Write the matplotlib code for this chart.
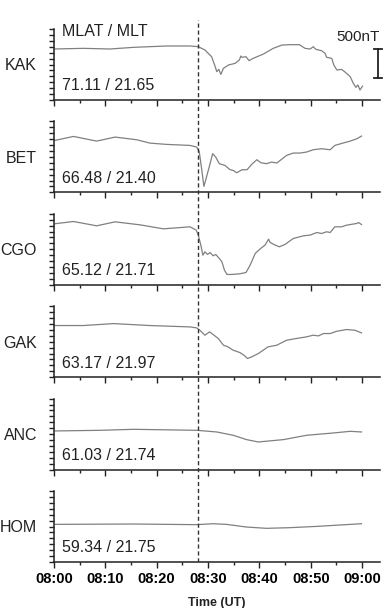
import matplotlib
matplotlib.use("Agg")
from matplotlib import pyplot as plt
from matplotlib.ticker import MultipleLocator

plt.rcParams["font.family"] = ["Liberation Sans", "DejaVu Sans"]

# minutes after 08:00 UT / relative field (nT)
STATIONS = ["KAK", "BET", "CGO", "GAK", "ANC", "HOM"]
COORDS = ["71.11 / 21.65", "66.48 / 21.40", "65.12 / 21.71",
          "63.17 / 21.97", "61.03 / 21.74", "59.34 / 21.75"]

kak_t = [0, 5.7, 10.9, 15.5, 22.0, 26.5, 28.1, 29.4, 30.7, 31.4, 31.7, 32.1, 32.5,
         33.0, 34.0, 35.3, 36.1, 36.4, 36.6, 37.4, 38.0, 38.8, 40.8, 42.7, 44.4,
         46.0, 47.8, 48.9, 49.9, 50.5, 51.0, 52.1, 52.8, 53.1, 54.1, 54.5, 55.1,
         56.0, 56.6, 57.7, 58.3, 58.8, 59.2, 59.6, 60.1]
kak_b = [862, 873, 862, 890, 913, 913, 901, 845, 732, 563, 479, 518, 434,
         535, 592, 620, 676, 744, 721, 732, 665, 704, 777, 873, 929,
         935, 935, 873, 862, 901, 856, 834, 789, 721, 704, 592, 507,
         518, 479, 394, 282, 214, 254, 169, 236]

bet_t = [0.2, 3.8, 8.3, 11.9, 16.1, 18.7, 22.0, 26.5, 27.8, 28.3, 28.8, 29.2, 29.7,
         30.4, 30.9, 31.5, 32.2, 33.3, 34.3, 34.9, 35.6, 36.6, 37.6, 38.5, 39.5,
         40.3, 41.4, 42.4, 43.4, 45.3, 46.6, 47.9, 49.2, 50.5, 52.1, 53.8, 54.7,
         56.3, 57.7, 59.0, 59.9]
bet_b = [879, 946, 867, 935, 890, 833, 811, 794, 766, 682, 372, 101, 259,
         485, 654, 597, 485, 456, 383, 372, 332, 383, 383, 473, 552,
         501, 485, 513, 496, 625, 665, 665, 682, 721, 738, 721, 794,
         834, 867, 907, 952]

cgo_t = [0, 3.8, 8.3, 11.9, 16.8, 21.3, 26.5, 27.7, 28.1, 28.6, 29.0, 29.4, 29.9,
         30.4, 31.0, 31.5, 32.2, 32.7, 33.2, 33.7, 34.6, 36.2, 37.4, 38.2, 39.2,
         40.1, 41.1, 41.8, 42.1, 43.1, 43.9, 45.0, 46.6, 48.6, 49.9, 51.2, 52.1,
         53.1, 53.8, 54.7, 56.0, 57.0, 59.0, 59.3, 59.9]
cgo_b = [1030, 1070, 997, 1064, 1013, 946, 980, 924, 840, 671, 501, 558, 513,
         546, 490, 513, 445, 389, 248, 175, 175, 186, 208, 332, 530,
         603, 671, 772, 715, 671, 642, 682, 783, 828, 840, 884, 867,
         896, 884, 980, 980, 1008, 1037, 1053, 1019]

gak_t = [0, 5.7, 11.6, 18.7, 26.5, 27.8, 28.4, 29.4, 30.3, 31.0, 32.0, 33.0, 33.9,
         34.9, 36.2, 37.0, 37.7, 38.5, 39.8, 41.7, 43.4, 45.3, 47.2, 49.2, 50.5,
         51.5, 52.5, 53.8, 55.1, 57.0, 58.6, 59.9]
gak_b = [873, 873, 906, 873, 850, 833, 794, 710, 766, 721, 654, 541, 513,
         456, 417, 372, 316, 343, 400, 513, 541, 625, 654, 682, 710,
         698, 738, 738, 777, 806, 794, 749]

anc_t = [0, 9.0, 15.5, 27.8, 31.7, 34.9, 37.5, 39.8, 44.7, 49.2, 54.4, 57.7, 59.9]
anc_b = [653, 664, 681, 664, 636, 580, 507, 467, 507, 580, 619, 647, 636]

hom_t = [0, 15.5, 27.8, 31.0, 33.6, 37.5, 41.4, 45.9, 51.2, 59.9]
hom_b = [636, 642, 631, 647, 636, 591, 569, 580, 602, 647]

SERIES = [(kak_t, kak_b), (bet_t, bet_b), (cgo_t, cgo_b),
          (gak_t, gak_b), (anc_t, anc_b), (hom_t, hom_b)]

ONSET = 28.0
XTICK_LABELS = ["08:00", "08:10", "08:20", "08:30", "08:40", "08:50", "09:00"]

W, H = 385, 608
fig = plt.figure(figsize=(W / 100, H / 100), dpi=100)

left = 54 / W
width = 326 / W
XMAX = 63.5
YMAX = 1200

axes = []
for i, (name, crd, (t, b)) in enumerate(zip(STATIONS, COORDS, SERIES)):
    bottom_px = 100 + 92.4 * i
    ax = fig.add_axes([left, 1 - bottom_px / H, width, 71 / H])
    ax.plot(t, b, color=(0.5, 0.5, 0.5), lw=0.9)
    ax.set_xlim(0, XMAX)
    ax.set_ylim(0, YMAX)
    for s in ("top", "right"):
        ax.spines[s].set_visible(False)
    for s in ("left", "bottom"):
        ax.spines[s].set_linewidth(1.1)
        ax.spines[s].set_color("#222222")
    ax.set_xticks([0, 10, 20, 30, 40, 50, 60])
    ax.xaxis.set_minor_locator(MultipleLocator(5))
    ax.yaxis.set_major_locator(MultipleLocator(100))
    ax.tick_params(axis="x", which="major", length=4.5, width=1.0, color="#222222")
    ax.tick_params(axis="x", which="minor", length=2.5, width=1.0, color="#222222")
    ax.tick_params(axis="y", which="major", length=3.5, width=1.0, color="#222222")
    ax.set_yticklabels([])
    if i < len(STATIONS) - 1:
        ax.set_xticklabels([])
    else:
        ax.set_xticklabels(XTICK_LABELS, fontsize=10.5, fontweight="bold")
        ax.tick_params(axis="x", pad=3)
    ax.text(-0.052, 0.48, name, transform=ax.transAxes, ha="right", va="center",
            fontsize=11.5, color="#222222")
    ax.text(0.025, 0.2, crd, transform=ax.transAxes, ha="left", va="center",
            fontsize=11.5, color="#222222")
    axes.append(ax)

# header and scale bar in the top panel
top = axes[0]
top.text(0.025, 0.96, "MLAT / MLT", transform=top.transAxes, ha="left", va="center",
         fontsize=11.5, color="#222222")
top.text(1.0, 1065, "500nT", transform=top.get_yaxis_transform(), ha="right",
         va="center", fontsize=11, color="#222222")
bar_x, bar_y0, bar_y1 = 63.1, 370, 870
top.plot([bar_x, bar_x], [bar_y0, bar_y1], color="#222222", lw=1.3, clip_on=False)
top.plot([bar_x - 0.7, bar_x + 0.7], [bar_y0, bar_y0], color="#222222", lw=1.3, clip_on=False)
top.plot([bar_x - 0.7, bar_x + 0.7], [bar_y1, bar_y1], color="#222222", lw=1.3, clip_on=False)

# onset line through all panels
ov = fig.add_axes([left, 1 - 562 / H, width, (562 - 20) / H])
ov.set_xlim(0, XMAX)
ov.set_ylim(0, 1)
ov.axis("off")
ov.axvline(ONSET, color="#333333", lw=1.0, linestyle=(0, (3, 2)))

fig.text(217 / W, 1 - 603 / H, "Time (UT)", ha="center", va="center",
         fontsize=9, fontweight="bold", color="#222222")

fig.savefig("out.png", dpi=100)
